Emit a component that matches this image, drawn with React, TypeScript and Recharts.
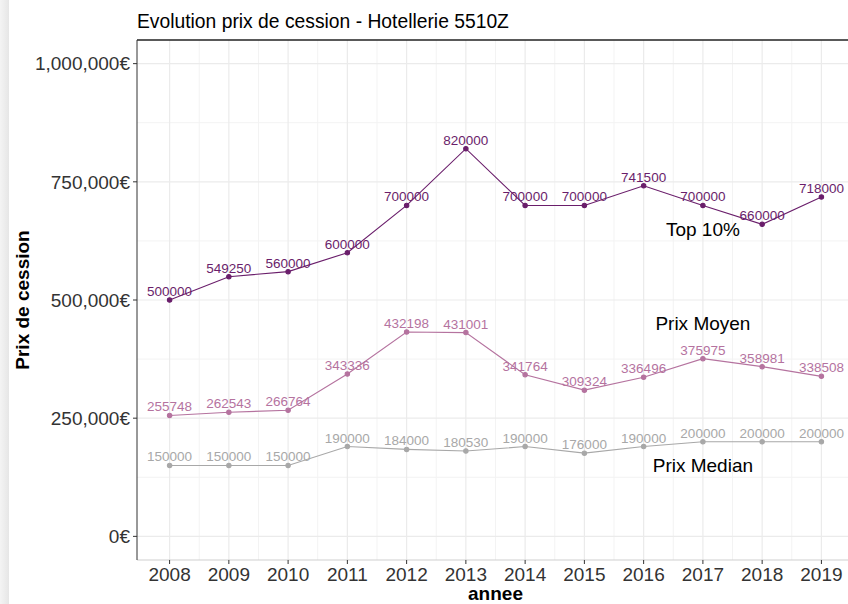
import React from 'react';
import { LineChart, Line, XAxis, YAxis, CartesianGrid, ReferenceLine, ReferenceDot, LabelList } from 'recharts';

const years = [2008, 2009, 2010, 2011, 2012, 2013, 2014, 2015, 2016, 2017, 2018, 2019];
const top10 = [500000, 549250, 560000, 600000, 700000, 820000, 700000, 700000, 741500, 700000, 660000, 718000];
const moyen = [255748, 262543, 266764, 343336, 432198, 431001, 341764, 309324, 336496, 375975, 358981, 338508];
const median = [150000, 150000, 150000, 190000, 184000, 180530, 190000, 176000, 190000, 200000, 200000, 200000];
const yTicks = [0, 250000, 500000, 750000, 1000000];
const yMinor = [125000, 375000, 625000, 875000];
const xMinor = [2008.5, 2009.5, 2010.5, 2011.5, 2012.5, 2013.5, 2014.5, 2015.5, 2016.5, 2017.5, 2018.5];
const annotations = [
  { x: 2017, y: 650000, text: 'Top 10%' },
  { x: 2017, y: 450000, text: 'Prix Moyen' },
  { x: 2017, y: 150000, text: 'Prix Median' },
];

const data = years.map((annee, i) => ({ annee, top10: top10[i], moyen: moyen[i], median: median[i] }));

const C_TOP = '#6A1E6B';
const C_MOY = '#B5739F';
const C_MED = '#A8A8A8';
const FONT = 'Liberation Sans, Arial, sans-serif';

const fmt = (v: number) => v.toLocaleString('en-US') + '€';

export default function App() {
  return (
    <div style={{ position: 'absolute', left: 0, top: 0, width: 848, height: 604, overflow: 'hidden', background: '#fff', fontFamily: FONT }}>
      <div style={{ position: 'absolute', left: 0, top: 0, width: 9, height: 604, background: 'linear-gradient(to right, #f4f4f4, #e6e6e6)' }} />
      <div style={{ position: 'absolute', left: 137, top: 11, fontSize: 19.3, color: '#000', whiteSpace: 'nowrap', lineHeight: '22px' }}>
        Evolution prix de cession - Hotellerie 5510Z
      </div>
      <div style={{ position: 'absolute', left: 0, top: 0 }}>
        <LineChart width={860} height={604} data={data} margin={{ top: 40, right: 6, bottom: 4, left: 7 }}>
          <CartesianGrid stroke="#F3F3F3" strokeWidth={1} horizontalValues={yMinor} verticalValues={xMinor} />
          <CartesianGrid stroke="#EBEBEB" strokeWidth={1.2} horizontalValues={yTicks} verticalValues={years} />
          <XAxis
            dataKey="annee"
            type="number"
            domain={[2007.45, 2019.55]}
            ticks={years}
            allowDataOverflow
            height={40}
            axisLine={{ stroke: '#CFCFCF' }}
            tickLine={{ stroke: '#333' }}
            tickSize={4}
            tick={{ fill: '#333', fontSize: 19, fontFamily: FONT, dy: 2 }}
            label={{ value: 'annee', position: 'insideBottom', offset: 0, style: { fontWeight: 'bold', fontSize: 19, fill: '#000', fontFamily: FONT } }}
          />
          <YAxis
            type="number"
            domain={[-50000, 1050000]}
            ticks={yTicks}
            allowDataOverflow
            width={130}
            axisLine={{ stroke: '#333' }}
            tickLine={{ stroke: '#333' }}
            tickSize={4}
            tickFormatter={fmt}
            tick={{ fill: '#333', fontSize: 19, fontFamily: FONT, dx: -1 }}
            label={{ value: 'Prix de cession', angle: -90, position: 'insideLeft', offset: 15, style: { fontWeight: 'bold', fontSize: 19, fill: '#000', fontFamily: FONT, textAnchor: 'middle' } }}
          />
          <ReferenceLine y={1050000} stroke="#222" strokeWidth={1.5} ifOverflow="visible" />
          <Line dataKey="median" stroke={C_MED} strokeWidth={1.1} dot={{ r: 2.2, fill: C_MED, stroke: C_MED }} isAnimationActive={false}>
            <LabelList dataKey="median" position="top" offset={4} fill={C_MED} fontSize={13.5} fontFamily={FONT} />
          </Line>
          <Line dataKey="moyen" stroke={C_MOY} strokeWidth={1.1} dot={{ r: 2.2, fill: C_MOY, stroke: C_MOY }} isAnimationActive={false}>
            <LabelList dataKey="moyen" position="top" offset={4} fill={C_MOY} fontSize={13.5} fontFamily={FONT} />
          </Line>
          <Line dataKey="top10" stroke={C_TOP} strokeWidth={1.1} dot={{ r: 2.2, fill: C_TOP, stroke: C_TOP }} isAnimationActive={false}>
            <LabelList dataKey="top10" position="top" offset={4} fill={C_TOP} fontSize={13.5} fontFamily={FONT} />
          </Line>
          {annotations.map((a) => (
            <ReferenceDot key={a.text} x={a.x} y={a.y} r={0} stroke="none" fill="none"
              label={{ value: a.text, position: 'center', fill: '#000', fontSize: 19, fontFamily: FONT }} />
          ))}
        </LineChart>
      </div>
    </div>
  );
}
